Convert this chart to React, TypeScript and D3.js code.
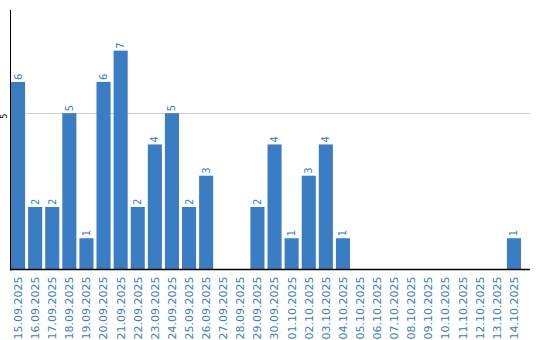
import React from "react";
import * as d3 from "d3";

const dates = [
  "15.09.2025","16.09.2025","17.09.2025","18.09.2025","19.09.2025","20.09.2025",
  "21.09.2025","22.09.2025","23.09.2025","24.09.2025","25.09.2025","26.09.2025",
  "27.09.2025","28.09.2025","29.09.2025","30.09.2025","01.10.2025","02.10.2025",
  "03.10.2025","04.10.2025","05.10.2025","06.10.2025","07.10.2025","08.10.2025",
  "09.10.2025","10.10.2025","11.10.2025","12.10.2025","13.10.2025","14.10.2025",
];
const values = [6,2,2,5,1,6,7,2,4,5,2,3,0,0,2,4,1,3,4,1,0,0,0,0,0,0,0,0,0,1];
const yTicks = [5];

const W = 540, H = 340;
const left = 11, bottom = 269.5, top = 10, right = 530;
const color = "#3a7dc2";

export default function App() {
  const x = d3.scaleBand<string>().domain(dates).range([left, left + 17 * dates.length]).paddingInner(3 / 17).paddingOuter(0).align(0);
  const y = d3.scaleLinear().domain([0, 8.3]).range([bottom, top]);
  const bw = x.bandwidth();
  return (
    <svg width={W} height={H} style={{ position: "absolute", left: 0, top: 0, fontFamily: "DejaVu Sans" }}>
      {yTicks.map((t) => (
        <g key={t}>
          <line x1={left} x2={right} y1={Math.round(y(t)) + 0.5} y2={Math.round(y(t)) + 0.5} stroke="#cccccc" />
          <text transform={`translate(7,${y(t) + 3}) rotate(-90)`} textAnchor="middle" fontSize={8} fill="#000">{t}</text>
        </g>
      ))}
      {values.map((v, i) => (
        <rect key={i} x={x(dates[i])} y={y(v)} width={bw} height={bottom - y(v)} fill={color} />
      ))}
      {values.map((v, i) =>
        v > 0 ? (
          <text key={i} transform={`translate(${(x(dates[i]) as number) + bw / 2},${y(v) - 2}) rotate(-90)`} dy="0.35em" fontSize={10} fill={color}>{v}</text>
        ) : null
      )}
      <line x1={10.5} x2={10.5} y1={top} y2={bottom + 1} stroke="#000" />
      <line x1={10} x2={right} y1={bottom} y2={bottom} stroke="#000" strokeWidth={1.5} />
      {dates.map((d) => (
        <text key={d} transform={`translate(${(x(d) as number) + bw / 2},${bottom + 7}) rotate(-90)`} textAnchor="end" dy="0.35em" fontSize={11} fill={color}>{d}</text>
      ))}
    </svg>
  );
}
